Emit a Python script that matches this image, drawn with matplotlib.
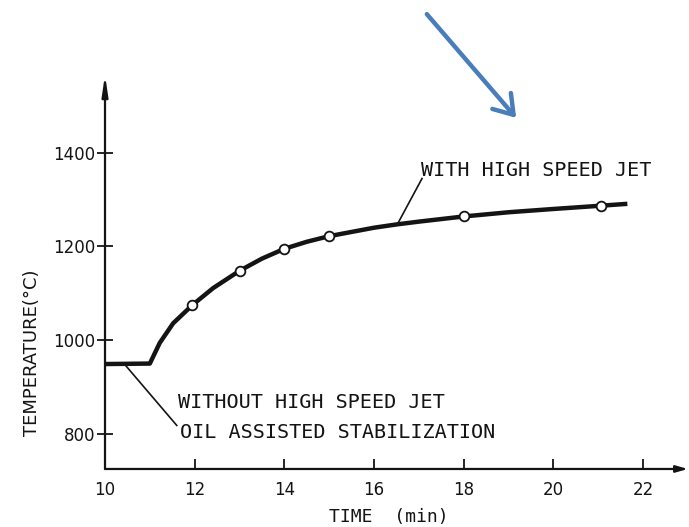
import matplotlib.pyplot as plt
from matplotlib.patches import FancyArrowPatch

# curve
time_curve = [10.0, 11.0, 11.22, 11.52, 11.95, 12.41, 13.0, 13.5, 14.0, 14.5, 15.0,
              16.0, 16.5, 17.0, 18.0, 19.0, 20.0, 21.06, 21.65]
temp_curve = [949, 950, 994, 1036, 1075, 1111, 1148, 1174, 1195, 1210, 1222,
              1240, 1247, 1253, 1264, 1273, 1280, 1287, 1291]

# measured points (open circles)
time_pts = [11.95, 13.0, 14.0, 15.0, 18.0, 21.06]
temp_pts = [1075, 1148, 1195, 1222, 1264, 1287]

x_ticks = [10, 12, 14, 16, 18, 20, 22]
y_ticks = [800, 1000, 1200, 1400]

ink = "#141414"
mono = "DejaVu Sans Mono"

fig = plt.figure(figsize=(6.89, 5.27), dpi=100)
ax = fig.add_axes([0.1524, 0.1101, 0.846, 0.7476])

ax.plot(time_curve, temp_curve, color=ink, lw=3.2, solid_capstyle="butt",
        solid_joinstyle="round", zorder=3)
ax.plot(time_pts, temp_pts, "o", ms=7, mfc="white", mec=ink, mew=1.3, zorder=4)

ax.set_xlim(10, 23.0)
ax.set_ylim(725, 1566)

for s in ax.spines.values():
    s.set_visible(False)
# axes drawn as arrows like the original
ax.annotate("", xy=(0, 1), xytext=(0, 0), xycoords="axes fraction",
            arrowprops=dict(arrowstyle="-|>,head_length=1.2,head_width=0.18",
                            color=ink, lw=1.6, shrinkA=0, shrinkB=0))
ax.annotate("", xy=(1, 0), xytext=(0, 0), xycoords="axes fraction",
            arrowprops=dict(arrowstyle="-|>,head_length=0.7,head_width=0.2",
                            color=ink, lw=1.6, shrinkA=0, shrinkB=0))

ax.set_xticks(x_ticks)
ax.set_yticks(y_ticks)
ax.tick_params(axis="x", direction="in", length=7, width=1.3, color=ink,
               labelsize=12, pad=9, labelcolor=ink)
ax.tick_params(axis="y", direction="inout", length=12, width=1.3, color=ink,
               labelsize=12, pad=1, labelcolor=ink)

ax.text(0.487, -0.122, "TIME  (min)", transform=ax.transAxes, ha="center",
        va="center", fontsize=13, family=mono, color=ink)
ax.text(-0.126, 0.294, "TEMPERATURE(°C)", transform=ax.transAxes, ha="center",
        va="center", rotation=90, fontsize=13, color=ink)

# labels with leader lines
ax.text(17.04, 1363, "WITH HIGH SPEED JET", ha="left", va="center",
        fontsize=14.5, family=mono, color=ink)
ax.plot([17.07, 16.53], [1345, 1249], color=ink, lw=1.2)

ax.text(11.63, 866, "WITHOUT HIGH SPEED JET", ha="left", va="center",
        fontsize=14.5, family=mono, color=ink)
ax.text(11.67, 802, "OIL ASSISTED STABILIZATION", ha="left", va="center",
        fontsize=14.5, family=mono, color=ink)
ax.plot([10.45, 11.6], [947, 818], color=ink, lw=1.2)

# blue arrow pasted over the figure
fig.add_artist(FancyArrowPatch(
    (425 / 689, 1 - 12 / 527), (518 / 689, 1 - 120 / 527),
    transform=fig.transFigure, arrowstyle="->,head_length=0.6,head_width=0.4",
    mutation_scale=22, color="#4a7ebb", lw=3.2))

fig.savefig("out.png", dpi=100)
